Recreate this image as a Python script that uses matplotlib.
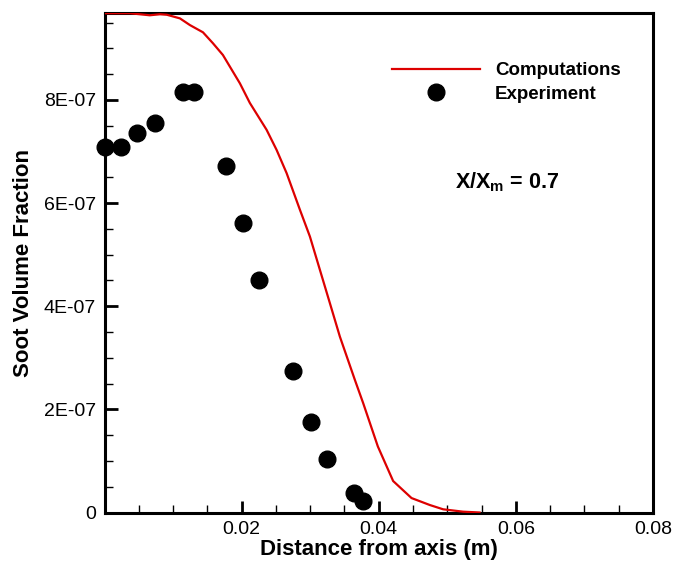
import matplotlib
matplotlib.use("Agg")
import matplotlib.pyplot as plt
from matplotlib.ticker import MultipleLocator, FixedLocator

plt.rcParams['font.family'] = ['Liberation Sans', 'DejaVu Sans']
plt.rcParams['mathtext.fontset'] = 'custom'
plt.rcParams['mathtext.rm'] = 'Liberation Sans:bold'
plt.rcParams['mathtext.bf'] = 'Liberation Sans:bold'

# Computations (red line)
comp_x = [0.0, 0.0037, 0.0066, 0.0081, 0.0091, 0.0110, 0.01246, 0.01436, 0.0158,
          0.01727, 0.01975, 0.0212, 0.02364, 0.0251, 0.02656, 0.0285, 0.02996,
          0.03287, 0.03433, 0.03652, 0.03773, 0.03987, 0.0421, 0.04478, 0.04745,
          0.04939, 0.0523, 0.0547]
comp_y = [9.68e-7, 9.68e-7, 9.64e-7, 9.66e-7, 9.65e-7, 9.58e-7, 9.45e-7, 9.31e-7, 9.10e-7,
          8.87e-7, 8.32e-7, 7.94e-7, 7.42e-7, 7.03e-7, 6.58e-7, 5.87e-7, 5.35e-7,
          4.06e-7, 3.41e-7, 2.57e-7, 2.12e-7, 1.28e-7, 0.61e-7, 0.28e-7, 0.145e-7,
          0.062e-7, 0.016e-7, 0.0]

# Experiment (black dots)
exp_x = [0.0001, 0.00236, 0.00478, 0.00736, 0.0114, 0.01309, 0.01767, 0.02023,
         0.02257, 0.02752, 0.0301, 0.03248, 0.03637, 0.03773]
exp_y = [7.09e-7, 7.09e-7, 7.35e-7, 7.55e-7, 8.16e-7, 8.16e-7, 6.71e-7, 5.62e-7,
         4.50e-7, 2.75e-7, 1.76e-7, 1.04e-7, 0.37e-7, 0.22e-7]

x_ticks = [0.02, 0.04, 0.06, 0.08]
x_ticklabels = ['0.02', '0.04', '0.06', '0.08']
y_ticks = [0, 2e-7, 4e-7, 6e-7, 8e-7]
y_ticklabels = ['0', '2E-07', '4E-07', '6E-07', '8E-07']

fig = plt.figure(figsize=(6.76, 5.65), dpi=100)
ax = fig.add_axes([104.5 / 676, 1 - 512.5 / 565, (653 - 104.5) / 676, (512.5 - 12.7) / 565])

ax.plot(comp_x, comp_y, color='#dd0000', lw=1.6, label='Computations', zorder=3)
ax.plot(exp_x, exp_y, 'o', color='black', ms=12, ls='none', label='Experiment',
        clip_on=False, zorder=4)

ax.set_xlim(0, 0.08)
ax.set_ylim(0, 9.69e-7)

ax.xaxis.set_major_locator(FixedLocator(x_ticks))
ax.set_xticklabels(x_ticklabels)
ax.xaxis.set_minor_locator(MultipleLocator(0.005))
ax.yaxis.set_major_locator(FixedLocator(y_ticks))
ax.set_yticklabels(y_ticklabels)
ax.yaxis.set_minor_locator(MultipleLocator(0.5e-7))

ax.tick_params(which='major', direction='in', length=9, width=2, labelsize=14, pad=6)
ax.tick_params(which='minor', direction='in', length=6, width=1)
ax.tick_params(top=False, right=False)

for s in ax.spines.values():
    s.set_linewidth(2.2)

ax.set_xlabel('Distance from axis (m)', fontsize=16, fontweight='bold', labelpad=1)
ax.set_ylabel('Soot Volume Fraction', fontsize=16, fontweight='bold', labelpad=7)

leg = ax.legend(loc='upper left', bbox_to_anchor=(0.524, 0.901), frameon=False,
                fontsize=13.5, handlelength=4.7, handletextpad=0.8, labelspacing=0.33,
                borderaxespad=0, borderpad=0)
for t in leg.get_texts():
    t.set_fontweight('bold')

ax.text(0.0511, 6.29e-7, r'X/X$_{\mathregular{m}}$ = 0.7', fontsize=15.5, fontweight='bold',
        ha='left', va='baseline')

fig.savefig('out.png', dpi=100)
